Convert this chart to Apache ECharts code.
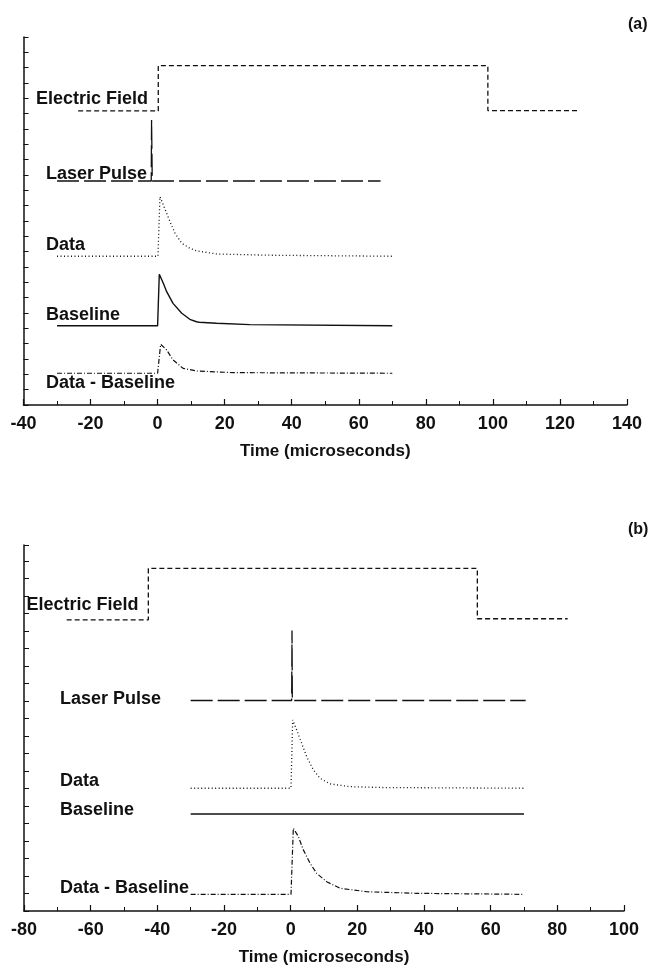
<!DOCTYPE html>
<html>
<head>
<meta charset="utf-8">
<script src="https://cdn.jsdelivr.net/npm/echarts@6/dist/echarts.min.js"></script>
<style>
  html, body { margin: 0; padding: 0; background: #fff; }
  #chart { width: 649px; height: 967px; }
</style>
</head>
<body>
<div id="chart"></div>
<script>
// panel (a) traces, [time in microseconds, offset level]
const fieldA = [[-23.7, 19.18], [0.2, 19.18], [0.2, 22.13], [98.5, 22.13], [98.5, 19.2], [125.6, 19.2]]
const laserA = [[-30, 14.61], [-1.9, 14.61], [-1.8, 18.59], [-1.6, 14.61], [66.5, 14.61]]
const dataA = [[-30, 9.70], [0.1, 9.70], [0.7, 13.59], [1.7, 13.05], [2.7, 12.50], [3.7, 11.96], [5.2, 11.20],
  [7.2, 10.55], [9.6, 10.22], [11.6, 10.05], [17.6, 9.85], [32.5, 9.77], [70, 9.70]]
const baseA = [[-30, 5.17], [0, 5.17], [0.5, 8.53], [1.7, 7.94], [2.7, 7.39], [4.6, 6.63], [7.2, 5.98],
  [9.6, 5.59], [11.6, 5.43], [12.0, 5.50], [12.4, 5.40], [17.6, 5.33], [27.5, 5.24], [70, 5.17]]
const diffA = [[-30, 2.07], [0, 2.07], [0.9, 3.96], [2.7, 3.59], [4.6, 2.94], [7.6, 2.39], [11.6, 2.22],
  [22.5, 2.11], [70, 2.07]]

// panel (b) traces
const fieldB = [[-67.2, 16.63], [-42.7, 16.63], [-42.7, 19.56], [56, 19.56], [56, 16.69], [83.1, 16.69]]
const laserB = [[-30, 12.02], [0.3, 12.02], [0.4, 16.02], [0.5, 12.02], [70.5, 12.02]]
const dataB = [[-30, 7.01], [0.1, 7.01], [0.6, 10.91], [1.8, 10.34], [3.3, 9.58], [4.8, 8.82], [6.8, 8.06],
  [8.8, 7.58], [11.8, 7.26], [17.8, 7.10], [27.8, 7.05], [70, 7.01]]
const baseB = [[-30, 5.54], [70, 5.54]]
const diffB = [[-30, 0.95], [0.1, 0.95], [0.8, 4.73], [2.3, 4.25], [3.8, 3.49], [5.8, 2.73], [7.8, 2.15],
  [10.8, 1.67], [14.8, 1.30], [22.8, 1.10], [37.8, 1.01], [70, 0.95]]

const traceNames = ['Electric Field', 'Laser Pulse', 'Data', 'Baseline', 'Data - Baseline']
const xRangeA = [-40, 140]
const xRangeB = [-80, 100]
const axisTitle = 'Time (microseconds)'
const panelTags = ['(a)', '(b)']

const ink = '#111'
const fam = '"Liberation Sans", Arial, Helvetica, sans-serif'
const dashes = [[5, 3], [22, 5], [1, 2.5], 'solid', [5, 2, 1, 2]]
const widths = [1.3, 1.3, 1.3, 1.4, 1.2]

function xAxisFor (grid, range) {
  return {
    type: 'value',
    gridIndex: grid,
    min: range[0],
    max: range[1],
    interval: 20,
    name: axisTitle,
    nameLocation: 'middle',
    nameGap: 38,
    nameTextStyle: { color: ink, fontFamily: fam, fontWeight: 'bold', fontSize: 17 },
    axisLine: { onZero: false, lineStyle: { color: ink, width: 1.5 } },
    axisTick: { inside: true, length: 6, lineStyle: { color: ink, width: 1.2 } },
    minorTick: { show: true, splitNumber: 2, length: 4, lineStyle: { color: ink, width: 1 } },
    axisLabel: { color: ink, fontFamily: fam, fontWeight: 'bold', fontSize: 18, margin: 10 },
    splitLine: { show: false }
  }
}

function yAxisFor (grid, max) {
  return {
    type: 'value',
    gridIndex: grid,
    min: 0,
    max: max,
    interval: 1,
    axisLine: { show: true, onZero: false, lineStyle: { color: ink, width: 1.5 } },
    axisTick: { inside: true, length: 5, lineStyle: { color: ink, width: 1 } },
    axisLabel: { show: false },
    splitLine: { show: false }
  }
}

function tracesFor (grid, sets) {
  return sets.map(function (d, i) {
    return {
      name: traceNames[i],
      type: 'line',
      xAxisIndex: grid,
      yAxisIndex: grid,
      data: d,
      symbol: 'none',
      silent: true,
      animation: false,
      lineStyle: { color: ink, width: widths[i], type: dashes[i] }
    }
  })
}

function label (text, x, y, size) {
  return {
    type: 'text',
    x: x,
    y: y,
    style: { text: text, fill: ink, font: 'bold ' + (size || 18) + 'px ' + fam, verticalAlign: 'middle' }
  }
}

const chart = echarts.init(document.getElementById('chart'))
chart.setOption({
  backgroundColor: '#fff',
  animation: false,
  grid: [
    { left: 23.5, top: 37, width: 603.5, height: 368 },
    { left: 24, top: 545, width: 600, height: 366 }
  ],
  xAxis: [xAxisFor(0, xRangeA), xAxisFor(1, xRangeB)],
  yAxis: [yAxisFor(0, 24), yAxisFor(1, 20.9)],
  series: tracesFor(0, [fieldA, laserA, dataA, baseA, diffA])
    .concat(tracesFor(1, [fieldB, laserB, dataB, baseB, diffB])),
  graphic: [
    label(traceNames[0], 36, 99),
    label(traceNames[1], 46, 174),
    label(traceNames[2], 46, 245),
    label(traceNames[3], 46, 315),
    label(traceNames[4], 46, 383.5),
    label(traceNames[0], 26.5, 605.5),
    label(traceNames[1], 60, 699.5),
    label(traceNames[2], 60, 781),
    label(traceNames[3], 60, 810),
    label(traceNames[4], 60, 888),
    label(panelTags[0], 628, 25, 16),
    label(panelTags[1], 628, 530, 16)
  ]
})
</script>
</body>
</html>
